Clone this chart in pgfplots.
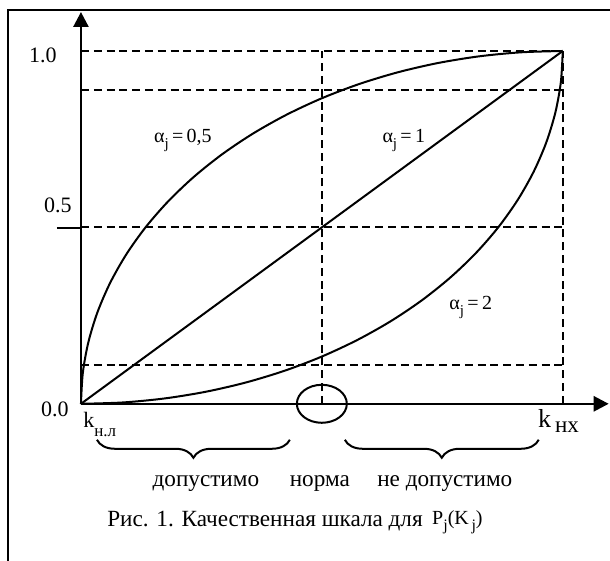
\documentclass[border=0pt]{standalone}
\usepackage{pgfplots}
\pgfplotsset{compat=1.18}
\usepackage{fontspec}
\setmainfont{Liberation Serif}
\usetikzlibrary{arrows.meta,decorations.pathreplacing}

% quarter-ellipse points, alpha_j = 0.5 (alpha_j = 2 is the same with x and y swapped)
\pgfplotstableread{
x y
0.00000 0.00000
0.00381 0.08716
0.01519 0.17365
0.03407 0.25882
0.06031 0.34202
0.09369 0.42262
0.13397 0.50000
0.18085 0.57358
0.23396 0.64279
0.29289 0.70711
0.35721 0.76604
0.42642 0.81915
0.50000 0.86603
0.57738 0.90631
0.65798 0.93969
0.74118 0.96593
0.82635 0.98481
0.91284 0.99619
1.00000 1.00000
}\halfcurve

\begin{document}
\begin{tikzpicture}
\begin{axis}[
  at={(40.5pt,-202pt)}, anchor=south west,
  scale only axis, width=264pt, height=196pt,
  xmin=0, xmax=1.0954, ymin=0, ymax=1.1105,
  axis lines=left, xtick=\empty, ytick=\empty,
  axis line style={line width=1.3pt,-{Triangle[length=7.5pt,width=7.5pt]}},
  clip=false,
  ref/.style={black, line width=0.9pt, dash pattern=on 4pt off 2.4pt},
  crv/.style={black, line width=1pt},
]
\addplot[ref] coordinates {(0,1) (1,1)};
\addplot[ref] coordinates {(0,0.89) (1,0.89)};
\addplot[ref] coordinates {(0,0.5) (1,0.5)};
\addplot[ref] coordinates {(0,0.11) (1,0.11)};
\addplot[ref] coordinates {(0.5,0) (0.5,1)};
\addplot[ref] coordinates {(1,0) (1,1)};

\addplot[crv, smooth] table[x=x,y=y] {\halfcurve};
\addplot[crv] coordinates {(0,0) (1,1)};
\addplot[crv, smooth] table[x=y,y=x] {\halfcurve};
\end{axis}

\begin{scope}[x=0.5pt,y=-0.5pt]
\useasboundingbox (0,0) rectangle (610,561);
\draw[line width=1pt] (8,561) -- (8,10) -- (610,10);

\draw[line width=1.3pt] (57,228) -- (81,228);
\draw[line width=1pt] (322,404) ellipse [x radius=25, y radius=19];

\node[anchor=base, font=\fontsize{11}{13}\selectfont, inner sep=0] at (43,63) {1.0};
\node[anchor=base, font=\fontsize{11}{13}\selectfont, inner sep=0] at (58,213) {0.5};
\node[anchor=base, font=\fontsize{11}{13}\selectfont, inner sep=0] at (55,417) {0.0};

\node[anchor=base west, inner sep=0] at (83,428)
  {\fontsize{11}{13}\selectfont k\raisebox{-4.5pt}{\fontsize{8.5}{10}\selectfont н.л}};
\node[anchor=base west, inner sep=0] at (538,428)
  {\fontsize{13}{15}\selectfont k\hspace{2pt}\raisebox{-2.5pt}{\fontsize{11.5}{13}\selectfont нх}};

\node[anchor=base, font=\fontsize{10}{12}\selectfont, inner sep=0] at (183,143)
  {α\raisebox{-3pt}{\fontsize{7.5}{9}\selectfont j}\,=\,0,5};
\node[anchor=base, font=\fontsize{10}{12}\selectfont, inner sep=0] at (404,143)
  {α\raisebox{-3pt}{\fontsize{7.5}{9}\selectfont j}\,=\,1};
\node[anchor=base, font=\fontsize{10}{12}\selectfont, inner sep=0] at (471,310)
  {α\raisebox{-3pt}{\fontsize{7.5}{9}\selectfont j}\,=\,2};

\draw[line width=1pt, decorate, decoration={brace, mirror, amplitude=9pt}] (97,440) -- (290,440);
\draw[line width=1pt, decorate, decoration={brace, mirror, amplitude=9pt}] (345,440) -- (539,440);

\node[anchor=base, font=\fontsize{11.6}{14}\selectfont, inner sep=0] at (206,487) {допустимо};
\node[anchor=base, font=\fontsize{11.6}{14}\selectfont, inner sep=0] at (320,487) {норма};
\node[anchor=base, font=\fontsize{11.6}{14}\selectfont, inner sep=0] at (445,487) {не допустимо};

\node[anchor=base west, font=\fontsize{11.6}{14}\selectfont, inner sep=0] at (107,527)
  {Рис. 1. Качественная шкала для};
\node[anchor=base west, inner sep=0] at (432,525)
  {\fontsize{10}{12}\selectfont P\raisebox{-3pt}{\fontsize{8}{9}\selectfont j}(K\raisebox{-3pt}{\fontsize{8}{9}\selectfont\,j})};
\end{scope}
\end{tikzpicture}
\end{document}
